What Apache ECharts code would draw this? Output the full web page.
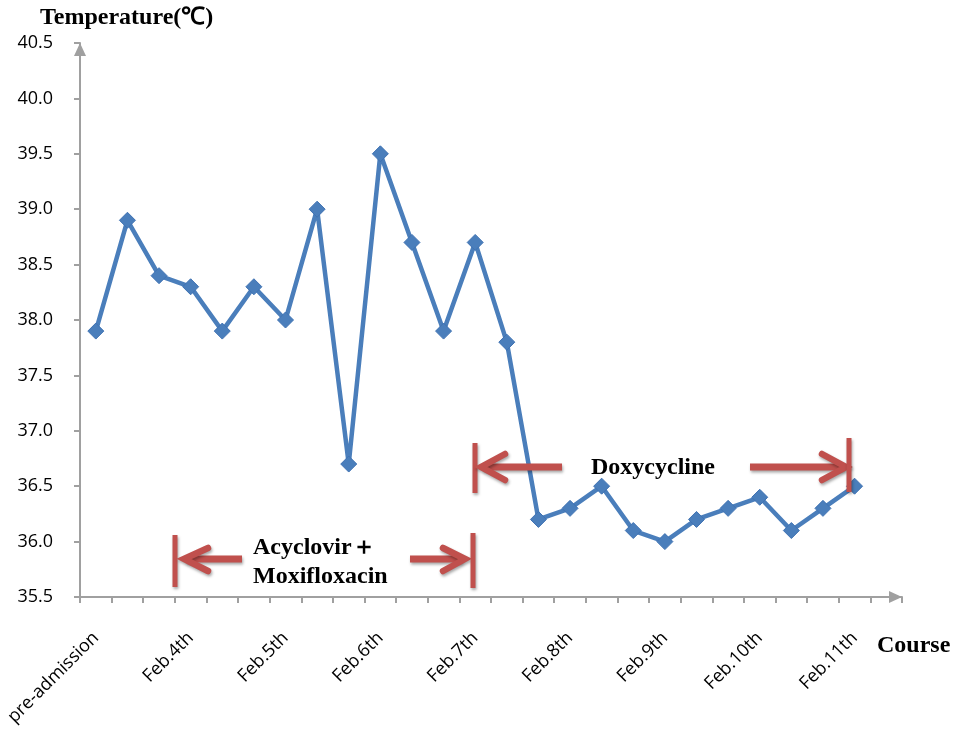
<!DOCTYPE html>
<html lang="en">
<head>
    <meta charset="UTF-8">
    <title>Temperature course</title>
    <style>
        html, body { margin: 0; padding: 0; background: #fff; }
        #main { width: 957px; height: 731px; }
    </style>
</head>
<body>
<div id="main"></div>
<script src="https://cdn.jsdelivr.net/npm/echarts@6/dist/echarts.min.js"></script>
<script>
    // body temperature for each measurement
    var temps = [37.9, 38.9, 38.4, 38.3, 37.9, 38.3, 38.0, 39.0, 36.7, 39.5, 38.7, 37.9,
                 38.7, 37.8, 36.2, 36.3, 36.5, 36.1, 36.0, 36.2, 36.3, 36.4, 36.1, 36.3, 36.5];
    // one label every third measurement
    var tickLabels = ['pre-admission', 'Feb.4th', 'Feb.5th', 'Feb.6th', 'Feb.7th',
                      'Feb.8th', 'Feb.9th', 'Feb.10th', 'Feb.11th'];
    var labelStep = 3;
    var slotCount = 26;

    var yMin = 35.5, yMax = 40.5, yStep = 0.5;

    var categories = [];
    for (var i = 0; i < slotCount; i++) {
        categories.push(i % labelStep === 0 && tickLabels[i / labelStep] ? tickLabels[i / labelStep] : '');
    }

    var red = '#c0504d';
    var axisGrey = '#a0a0a0';
    var serif = '"Liberation Serif", "Times New Roman", serif';
    var sans = '"Open Sans", "Noto Sans", sans-serif';

    var shadow = { shadowBlur: 3, shadowColor: 'rgba(0,0,0,0.35)', shadowOffsetX: 1, shadowOffsetY: 2 };

    function seg(x1, y1, x2, y2, w) {
        return {
            type: 'line',
            shape: { x1: x1, y1: y1, x2: x2, y2: y2 },
            style: Object.assign({ stroke: red, lineWidth: w, lineCap: 'butt' }, shadow),
            z: 10
        };
    }
    function head(points) {
        return {
            type: 'polyline',
            shape: { points: points },
            style: Object.assign({ stroke: red, lineWidth: 6.5, lineCap: 'round', lineJoin: 'miter', fill: null }, shadow),
            z: 10
        };
    }
    function label(text, x, y, align) {
        return {
            type: 'text',
            x: x, y: y,
            style: {
                text: text, fill: '#000',
                font: 'bold 24px ' + serif,
                align: align, verticalAlign: 'middle'
            },
            z: 11
        };
    }

    var axisArrow = {
        show: true,
        symbol: ['none', 'triangle'],
        symbolSize: [12, 13],
        symbolOffset: [0, -6.5],
        lineStyle: { color: axisGrey, width: 2 }
    };

    var chart = echarts.init(document.getElementById('main'));
    chart.setOption({
        backgroundColor: '#fff',
        animation: false,
        title: [{
            text: 'Temperature(℃)',
            left: 35, top: 1,
            textStyle: { fontFamily: serif, fontWeight: 'bold', fontSize: 24, color: '#000' }
        }, {
            text: 'Course',
            left: 872, top: 629,
            textStyle: { fontFamily: serif, fontWeight: 'bold', fontSize: 24, color: '#000' }
        }],
        grid: { left: 80, right: 55, top: 43, bottom: 134 },
        xAxis: {
            type: 'category',
            data: categories,
            boundaryGap: true,
            axisLine: axisArrow,
            axisTick: { show: true, interval: 0, length: 6, lineStyle: { color: axisGrey, width: 2 } },
            axisLabel: {
                interval: 0,
                rotate: 45,
                margin: 38,
                color: '#000',
                fontFamily: sans,
                fontSize: 18
            },
            splitLine: { show: false }
        },
        yAxis: {
            type: 'value',
            min: yMin, max: yMax, interval: yStep,
            axisLine: axisArrow,
            axisTick: { show: true, length: 6, lineStyle: { color: axisGrey, width: 2 } },
            axisLabel: {
                margin: 27,
                color: '#000',
                fontFamily: sans,
                fontSize: 18,
                formatter: function (v) { return v.toFixed(1); }
            },
            splitLine: { show: false }
        },
        series: [{
            type: 'line',
            data: temps,
            symbol: 'diamond',
            symbolSize: 16,
            lineStyle: { color: '#4a7ebb', width: 4.5 },
            itemStyle: { color: '#4a7ebb', borderColor: '#3f72b3', borderWidth: 1 },
            z: 5
        }],
        graphic: [
            // Acyclovir + Moxifloxacin span
            seg(175, 535, 175, 587, 5),
            seg(186, 559, 242, 559, 7),
            head([[208, 548], [184, 559], [208, 571]]),
            seg(410, 559, 462, 559, 7),
            head([[443, 548], [465, 559], [443, 571]]),
            seg(473, 533, 473, 588, 5),
            label('Acyclovir＋', 253, 548, 'left'),
            label('Moxifloxacin', 253, 577, 'left'),
            // Doxycycline span
            seg(475, 443, 475, 493, 5),
            seg(483, 467, 562, 467, 7),
            head([[505, 454], [481, 467], [505, 480]]),
            seg(750, 467, 844, 467, 7),
            head([[822, 454], [846, 467], [822, 480]]),
            seg(849, 438, 849, 492, 5),
            label('Doxycycline', 653, 468, 'center')
        ]
    });
</script>
</body>
</html>
